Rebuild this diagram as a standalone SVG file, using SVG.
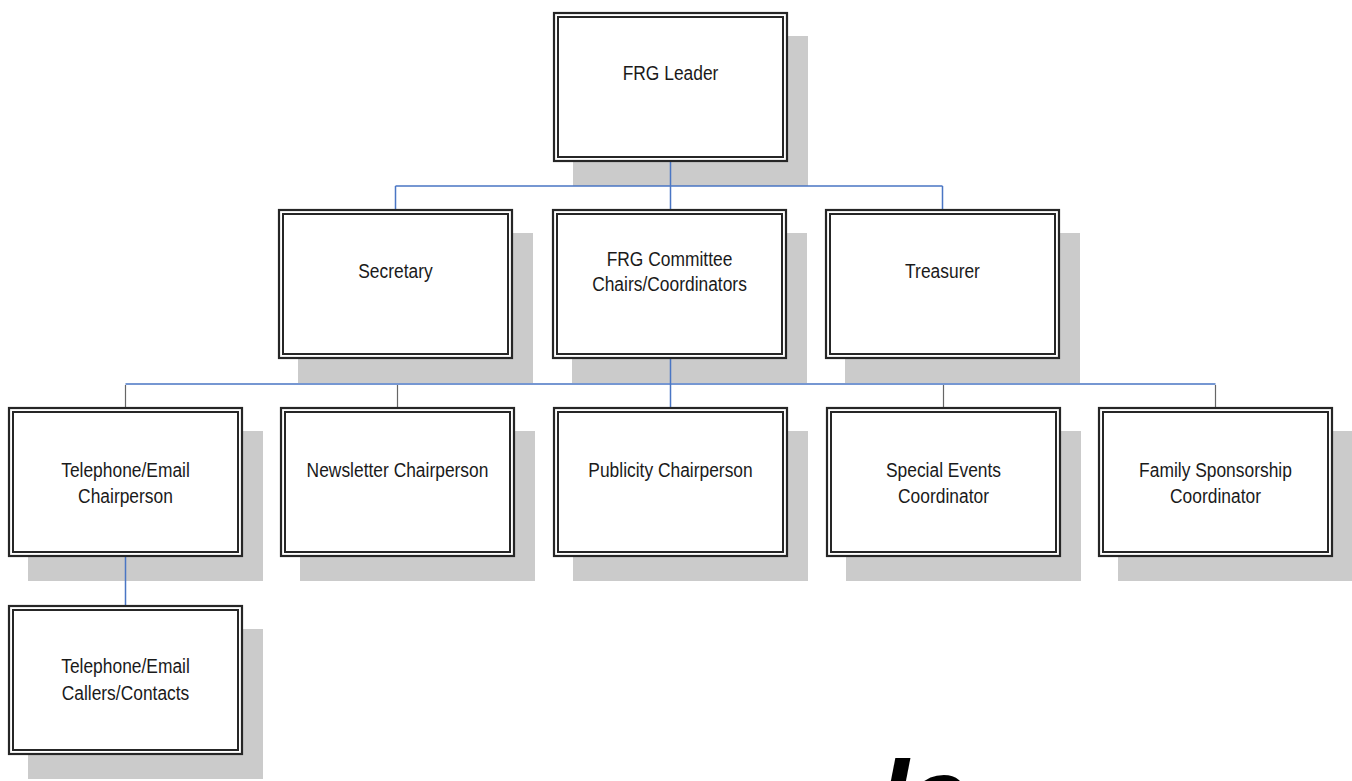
<svg xmlns="http://www.w3.org/2000/svg" width="1352" height="781" viewBox="0 0 1352 781">
<defs>
<style>
.sh{fill:#cbcbcb}
.bo{fill:#ffffff;stroke:#262626;stroke-width:2.2}
.bi{fill:none;stroke:#262626;stroke-width:2}
.lbl{font-family:"Liberation Sans",Arial,sans-serif;font-size:17.4px;fill:#1a1a1a;text-anchor:middle}
.cb{stroke:#4a76c4;stroke-width:1.5;fill:none}
.cg{stroke:#666666;stroke-width:1.2;fill:none}
.big{font-family:"DejaVu Sans",sans-serif;font-weight:bold;font-style:italic;font-size:86px;fill:#000}
</style>
</defs>
<rect width="1352" height="781" fill="#ffffff"/>
<g id="shadows">
<rect class="sh" x="573" y="36" width="235" height="150"/>
<rect class="sh" x="298" y="233" width="235" height="150"/>
<rect class="sh" x="572" y="233" width="235" height="150"/>
<rect class="sh" x="845" y="233" width="235" height="150"/>
<rect class="sh" x="28" y="431" width="235" height="150"/>
<rect class="sh" x="300" y="431" width="235" height="150"/>
<rect class="sh" x="573" y="431" width="235" height="150"/>
<rect class="sh" x="846" y="431" width="235" height="150"/>
<rect class="sh" x="1118" y="431" width="235" height="150"/>
<rect class="sh" x="28" y="629" width="235" height="150"/>
</g>
<g id="connectors">
<path class="cb" d="M670.5 162 V186 M395.5 186 H942.5 M395.5 186 V209 M670.5 186 V209 M942.5 186 V209"/>
<path class="cb" d="M670.5 359 V407 M125.5 384 H1215.5 M125.5 557 V605"/>
<path class="cg" d="M125.5 385 V407 M397.5 385 V407 M943.5 385 V407 M1215.5 385 V407"/>
</g>
<g id="n-leader">
<rect class="bo" x="554" y="13" width="233" height="148"/>
<rect class="bi" x="558" y="17" width="225" height="140"/>
<text class="lbl" transform="translate(670.5 80) scale(1 1.15)">FRG Leader</text>
</g>
<g id="n-secretary">
<rect class="bo" x="279" y="210" width="233" height="148"/>
<rect class="bi" x="283" y="214" width="225" height="140"/>
<text class="lbl" transform="translate(395.5 278) scale(1 1.15)">Secretary</text>
</g>
<g id="n-committee">
<rect class="bo" x="553" y="210" width="233" height="148"/>
<rect class="bi" x="557" y="214" width="225" height="140"/>
<text class="lbl" transform="translate(669.5 266) scale(1 1.15)">FRG Committee</text>
<text class="lbl" transform="translate(669.5 291) scale(1 1.15)">Chairs/Coordinators</text>
</g>
<g id="n-treasurer">
<rect class="bo" x="826" y="210" width="233" height="148"/>
<rect class="bi" x="830" y="214" width="225" height="140"/>
<text class="lbl" transform="translate(942.5 278) scale(1 1.15)">Treasurer</text>
</g>
<g id="n-telephone">
<rect class="bo" x="9" y="408" width="233" height="148"/>
<rect class="bi" x="13" y="412" width="225" height="140"/>
<text class="lbl" transform="translate(125.5 477) scale(1 1.15)">Telephone/Email</text>
<text class="lbl" transform="translate(125.5 503) scale(1 1.15)">Chairperson</text>
</g>
<g id="n-newsletter">
<rect class="bo" x="281" y="408" width="233" height="148"/>
<rect class="bi" x="285" y="412" width="225" height="140"/>
<text class="lbl" transform="translate(397.5 477) scale(1 1.15)">Newsletter Chairperson</text>
</g>
<g id="n-publicity">
<rect class="bo" x="554" y="408" width="233" height="148"/>
<rect class="bi" x="558" y="412" width="225" height="140"/>
<text class="lbl" transform="translate(670.5 477) scale(1 1.15)">Publicity Chairperson</text>
</g>
<g id="n-special">
<rect class="bo" x="827" y="408" width="233" height="148"/>
<rect class="bi" x="831" y="412" width="225" height="140"/>
<text class="lbl" transform="translate(943.5 477) scale(1 1.15)">Special Events</text>
<text class="lbl" transform="translate(943.5 503) scale(1 1.15)">Coordinator</text>
</g>
<g id="n-family">
<rect class="bo" x="1099" y="408" width="233" height="148"/>
<rect class="bi" x="1103" y="412" width="225" height="140"/>
<text class="lbl" transform="translate(1215.5 477) scale(1 1.15)">Family Sponsorship</text>
<text class="lbl" transform="translate(1215.5 503) scale(1 1.15)">Coordinator</text>
</g>
<g id="n-callers">
<rect class="bo" x="9" y="606" width="233" height="148"/>
<rect class="bi" x="13" y="610" width="225" height="140"/>
<text class="lbl" transform="translate(125.5 673) scale(1 1.15)">Telephone/Email</text>
<text class="lbl" transform="translate(125.5 700) scale(1 1.15)">Callers/Contacts</text>
</g>
<text class="big" x="880" y="823">le</text>
</svg>
